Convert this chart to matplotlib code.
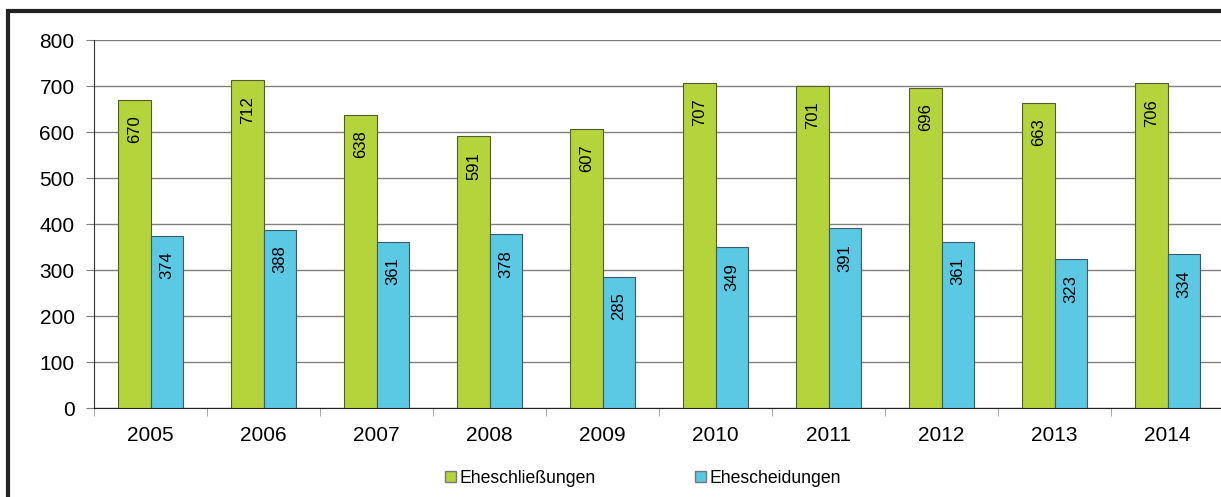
import numpy as np
import matplotlib
matplotlib.use('Agg')
import matplotlib.pyplot as plt
from matplotlib.patches import Rectangle, Patch

plt.rcParams['font.family'] = ['Liberation Sans', 'DejaVu Sans']

years = ['2005', '2006', '2007', '2008', '2009', '2010', '2011', '2012', '2013', '2014']
eheschliessungen = [670, 712, 638, 591, 607, 707, 701, 696, 663, 706]
ehescheidungen = [374, 388, 361, 378, 285, 349, 391, 361, 323, 334]

green = '#B5D33B'
blue = '#5BC8E4'

fig = plt.figure(figsize=(12.21, 4.97), dpi=100)
ax = fig.add_axes([0.077, 0.179, 0.9255, 0.7405])

x = np.arange(len(years))
w = 0.285
b1 = ax.bar(x - w / 2, eheschliessungen, w, color=green, edgecolor='#555a30', linewidth=0.8, zorder=3)
b2 = ax.bar(x + w / 2, ehescheidungen, w, color=blue, edgecolor='#3d5a66', linewidth=0.8, zorder=3)

for rects, vals in ((b1, eheschliessungen), (b2, ehescheidungen)):
    for r, v in zip(rects, vals):
        ax.text(r.get_x() + r.get_width() / 2, v - 34, str(v), rotation=90,
                ha='center', va='top', fontsize=12, zorder=4)

ax.set_xlim(-0.5, len(years) - 0.5)
ax.set_ylim(0, 800)
ax.set_yticks(range(0, 801, 100))
ax.yaxis.grid(True, color='#808080', linewidth=1, zorder=0)
ax.set_xticks(x)
ax.set_xticklabels(years, fontsize=15)
ax.set_xticks(np.arange(-0.5, len(years), 1), minor=True)
ax.tick_params(axis='x', which='major', length=0, pad=13)
ax.tick_params(axis='x', which='minor', length=6, color='#999999')
ax.tick_params(axis='y', length=6, color='#808080', labelsize=15, pad=8)
for s in ('top', 'right'):
    ax.spines[s].set_visible(False)
ax.spines['left'].set_color('#333333')
ax.spines['bottom'].set_color('#222222')

handles = [Patch(facecolor=green, edgecolor='#777777', label='Eheschließungen'),
           Patch(facecolor=blue, edgecolor='#777777', label='Ehescheidungen')]
fig.legend(handles=handles, loc='center', bbox_to_anchor=(0.5265, 0.037), ncol=2,
           frameon=False, fontsize=12.7, handlelength=0.6, handleheight=0.6,
           handletextpad=0.2, columnspacing=5.65)

# outer frame (cropped at right and bottom)
fig.patches.append(Rectangle((8 / 1221, -0.1), 1.2, 0.1 + (497 - 11) / 497,
                             transform=fig.transFigure, fill=False,
                             edgecolor='#222222', linewidth=3))

fig.savefig('out.png', dpi=100)
